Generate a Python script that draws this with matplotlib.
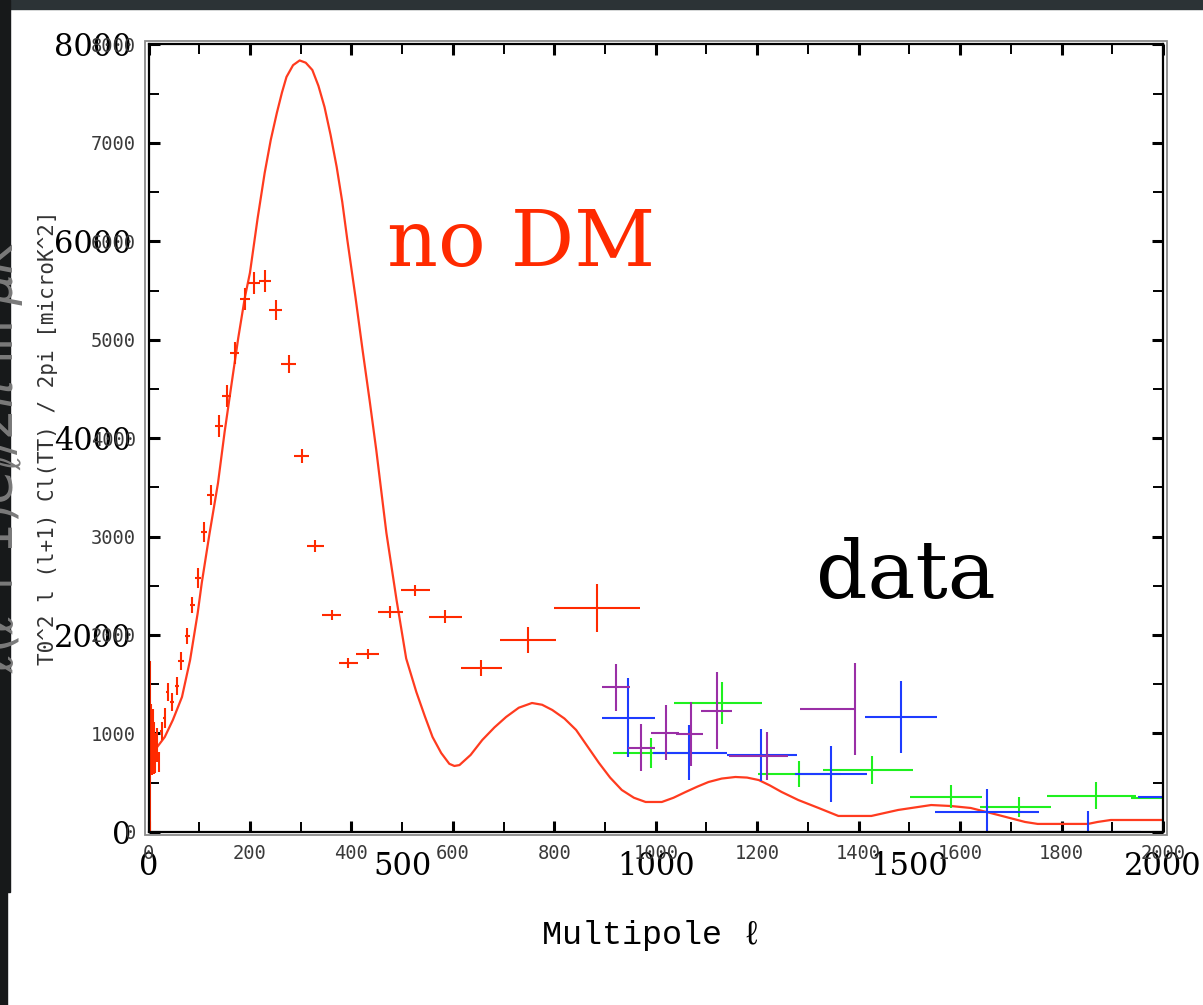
import matplotlib.pyplot as plt
from matplotlib.patches import Rectangle

W, H = 1203, 1005

# model spectrum without dark matter
theory_l = [2, 10, 17, 32, 48, 66, 82, 97, 105, 120, 137, 150, 164, 177, 190, 200,
            215, 229, 241, 253, 263, 272, 285, 298, 310, 323, 335, 347, 359, 371,
            382, 392, 408, 422, 436, 449, 469, 489, 508, 528, 545, 560, 577, 593,
            603, 613, 635, 658, 682, 705, 730, 756, 776, 796, 820, 843, 865, 888,
            910, 933, 957, 980, 1012, 1035, 1059, 1082, 1104, 1130, 1157, 1180,
            1203, 1225, 1248, 1281, 1321, 1360, 1425, 1478, 1543, 1582, 1621,
            1675, 1728, 1753, 1852, 1871, 1897, 2000]
theory_c = [1000, 880, 860, 962, 1135, 1369, 1745, 2223, 2528, 3020, 3543, 4060,
            4560, 5020, 5430, 5680, 6230, 6694, 7030, 7304, 7510, 7670, 7790,
            7838, 7815, 7741, 7580, 7365, 7080, 6755, 6400, 6013, 5434, 4896,
            4380, 3880, 3036, 2355, 1760, 1420, 1170, 962, 800, 690, 668, 677,
            780, 932, 1060, 1166, 1260, 1308, 1290, 1237, 1150, 1034, 870, 699,
            550, 424, 345, 302, 302, 345, 404, 458, 505, 540, 556, 550, 525, 470,
            404, 322, 241, 160, 160, 221, 271, 261, 241, 170, 99, 79, 79, 99, 119,
            119]

# red band powers: multipole, power, half bin width, error
red_l = [2, 4, 6, 8, 10, 13, 16, 21, 26, 32, 38, 46, 56, 64, 76, 86, 97, 109, 123,
         139, 154, 170, 190, 208, 229, 251, 276, 302, 329, 361, 394, 432, 477,
         526, 585, 656, 748, 884]
red_c = [860, 960, 880, 950, 850, 800, 880, 709, 1024, 1156, 1420, 1318, 1481,
         1735, 1989, 2304, 2578, 3046, 3422, 4123, 4428, 4865, 5414, 5576, 5596,
         5301, 4753, 3818, 2903, 2202, 1714, 1806, 2233, 2456, 2182, 1663, 1948,
         2273]
red_dl = [1, 1, 1, 1, 1, 1, 1, 2, 3, 3, 3, 4, 4, 5, 5, 5, 6, 6, 7, 8, 9, 9, 10, 11,
          12, 13, 14, 15, 16, 18, 19, 22, 24, 28, 33, 40, 55, 85]
red_dc = [870, 340, 300, 300, 260, 200, 170, 100, 95, 100, 90, 90, 90, 90, 85, 85,
          100, 105, 100, 110, 110, 110, 110, 110, 110, 100, 90, 70, 60, 50, 50,
          50, 60, 56, 66, 81, 132, 244]

# purple set: multipole, power, bin low, bin high, error
purple_l = [921, 971, 1020, 1070, 1121, 1219, 1393]
purple_c = [1467, 854, 1006, 993, 1230, 772, 1247]
purple_lo = [894, 946, 990, 1040, 1089, 1144, 1285]
purple_hi = [950, 998, 1045, 1094, 1150, 1260, 1393]
purple_dc = [242, 239, 281, 330, 389, 245, 472]

# blue set
blue_l = [946, 1066, 1207, 1345, 1484, 1654, 1853, 2050]
blue_c = [1159, 803, 779, 586, 1163, 200, 0, 356]
blue_lo = [894, 994, 1140, 1275, 1412, 1551, 1753, 1950]
blue_hi = [998, 1140, 1279, 1417, 1555, 1755, 1956, 2150]
blue_dc = [402, 280, 264, 286, 367, 231, 210, 230]

# green set
green_l = [990, 1131, 1283, 1427, 1583, 1716, 1867, 2020]
green_c = [797, 1305, 586, 627, 356, 251, 366, 339]
green_lo = [915, 1035, 1201, 1330, 1501, 1639, 1772, 1936]
green_hi = [1065, 1210, 1366, 1507, 1644, 1779, 1947, 2104]
green_dc = [152, 215, 136, 142, 117, 105, 137, 130]

x_small_ticks = list(range(0, 2001, 200))
y_small_ticks = list(range(0, 8001, 1000))
x_big_ticks = [0, 500, 1000, 1500, 2000]
y_big_ticks = [0, 2000, 4000, 6000, 8000]

MONO = ["DejaVu Sans Mono"]
TYPE = ["Liberation Mono", "DejaVu Sans Mono"]
SERIF = ["DejaVu Serif"]


def px_rect(x0, y0, x1, y1):
    # pixel box with top-left origin -> figure fraction [l, b, w, h]
    return [x0 / W, 1 - y1 / H, (x1 - x0) / W, (y1 - y0) / H]


fig = plt.figure(figsize=(W / 100, H / 100), dpi=100)
fig.patch.set_facecolor("white")

# slide background peeking around the pasted plot
for x0, y0, x1, y1, col in [(0, 0, W, 9, "#2c3336"), (0, 0, 10, 892, "#17191a"),
                            (0, 892, 7, H, "#17191a")]:
    l, b, w, h = px_rect(x0, y0, x1, y1)
    fig.add_artist(Rectangle((l, b), w, h, transform=fig.transFigure,
                             color=col, zorder=0))

ax = fig.add_axes(px_rect(148.5, 44.5, 1163, 831.7))
ax.set_xlim(0, 2000)
ax.set_ylim(0, 8000)

ax.plot(theory_l, theory_c, color="#ff3b1f", lw=1.6)

ax.errorbar(red_l, red_c, xerr=red_dl, yerr=red_dc, fmt="none",
            ecolor="#ff2a00", elinewidth=1.5)
for ls, cs, lo, hi, dc, col in [
        (green_l, green_c, green_lo, green_hi, green_dc, "#1ff01f"),
        (blue_l, blue_c, blue_lo, blue_hi, blue_dc, "#1e3cff"),
        (purple_l, purple_c, purple_lo, purple_hi, purple_dc, "#9a2fa6")]:
    xerr = [[l - a for l, a in zip(ls, lo)], [b - l for l, b in zip(ls, hi)]]
    ax.errorbar(ls, cs, xerr=xerr, yerr=dc, fmt="none", ecolor=col,
                elinewidth=1.5)

# ticks and the small labels of the original plot
ax.set_xticks(x_small_ticks)
ax.set_xticks(range(100, 2000, 200), minor=True)
ax.set_yticks(y_small_ticks)
ax.set_yticks(range(500, 8000, 1000), minor=True)
ax.tick_params(which="both", direction="in", top=True, right=True)
ax.tick_params(which="major", length=8, width=2.2, labelsize=13.5,
               labelcolor="#3a3a3a")
ax.tick_params(which="minor", length=7, width=1.4)
ax.tick_params(axis="x", pad=9)
ax.tick_params(axis="y", pad=9)
for t in ax.get_xticklabels() + ax.get_yticklabels():
    t.set_fontfamily(MONO)
for sp in ax.spines.values():
    sp.set_linewidth(1.6)

# big slide labels on top
sx = ax.secondary_xaxis("bottom")
sx.set_xticks(x_big_ticks, labels=[str(v) for v in x_big_ticks])
sx.tick_params(length=0, pad=14, labelsize=22)
sx.spines["bottom"].set_visible(False)
for t in sx.get_xticklabels():
    t.set_fontfamily(SERIF)

sy = ax.secondary_yaxis("left")
sy.set_yticks(y_big_ticks, labels=[str(v) for v in y_big_ticks])
sy.tick_params(length=0, pad=12, labelsize=22)
sy.spines["left"].set_visible(False)
for t in sy.get_yticklabels():
    t.set_fontfamily(SERIF)

# outer grey frame of the pasted image
l, b, w, h = px_rect(145, 40.5, 1166.5, 835)
fig.add_artist(Rectangle((l, b), w, h, transform=fig.transFigure,
                         fill=False, edgecolor="#8a8a8a", lw=1.3))

fig.text(48 / W, 1 - 438 / H, "T0^2 l (l+1) Cl(TT) / 2pi [microK^2]",
         rotation=90, ha="center", va="center", family=MONO, fontsize=15,
         color="#333333")
fig.text(26 / W, 1 - 445 / H, r"$\ell(\ell+1)C_\ell/2\pi$ in $\mu K^2$",
         rotation=90, ha="right", va="center", fontsize=35, color="#7a7a7a")

fig.text(652 / W, 1 - 935 / H, "Multipole \u2113", ha="center", va="center",
         family=TYPE, fontsize=24)

ax.text(471, 5748, "no DM", fontsize=57, color="#ff2a00", family=SERIF,
        ha="left", va="baseline")
ax.text(1316, 2375, "data", fontsize=58, color="black", family=SERIF,
        ha="left", va="baseline")

fig.savefig("out.png", dpi=100, facecolor=fig.get_facecolor())
